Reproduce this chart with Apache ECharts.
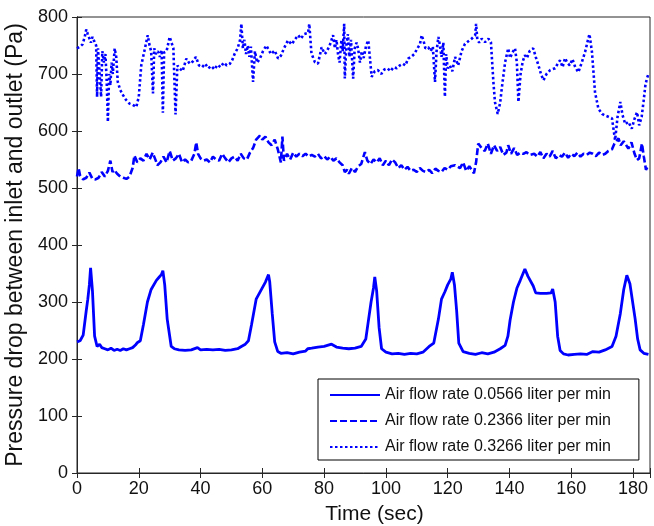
<!DOCTYPE html>
<html>
<head>
<meta charset="utf-8">
<script src="https://cdn.jsdelivr.net/npm/echarts@6/dist/echarts.min.js"></script>
<style>
html,body{margin:0;padding:0;background:#fff;}
#chart{width:654px;height:526px;}
</style>
</head>
<body>
<div id="chart"></div>
<script>
// ---- Data ----
const seriesNames = [
  'Air flow rate 0.0566 liter per min',
  'Air flow rate 0.2366 liter per min',
  'Air flow rate 0.3266 liter per min'
];
const xTicks = [0, 20, 40, 60, 80, 100, 120, 140, 160, 180];
const yTicks = [0, 100, 200, 300, 400, 500, 600, 700, 800];

// Series 1: 0.0566 liter per min (solid)
const t1 = [0,1,2,3,3.5,4,4.4,5,5.7,6.5,7.3,8,9,10,11,12,13,14,15,16,17,18,19,19.6,20.5,21.5,22.8,24,25.7,26.5,27.3,27.8,28.4,29.2,30.5,31.5,33,35,37,39,40,42,44,46,48,50,52,53.2,54.5,55.5,56.5,58,59.5,61,62,62.4,63.2,64,65,66,68,70,72,74,74.7,76,78,80,82.4,84,86,88,90,92,93.5,94.2,95.2,96,96.4,97,97.8,98.6,100,102,104,106,108,110,112,114,115.5,117,118,119.1,120,121,121.5,122.2,122.9,123.6,125,127,129,131,133,135,137,138.6,139.5,140.2,141.3,142.4,143.5,145,146,147.7,148.5,150,152,153.5,154,154.8,155.6,156.4,157.5,159,161,163,165,167,169,171,173.2,174.5,175.9,177,178,179,180.7,181.5,182.3,183.5,185];
const p1 = [230,232,242,285,305,330,360,320,240,222,226,220,218,216,219,215,217,215,218,216,218,220,225,229,232,260,300,322,338,343,348,355,330,270,222,218,216,215,216,220,216,217,216,217,215,216,218,222,226,232,260,305,320,335,348,335,280,230,213,210,211,209,212,214,218,219,221,222,226,221,219,218,219,222,235,262,300,325,344,320,255,218,212,209,210,208,210,209,212,222,228,270,305,318,330,340,352,330,285,228,213,210,208,211,209,212,218,224,240,268,300,324,338,358,345,328,316,315,315,316,323,300,240,215,209,207,208,209,208,213,212,216,222,240,280,322,347,332,270,235,216,210,208];

// Series 2: 0.2366 liter per min (dashed)
const t2 = [0,0.5,1,2,3,4,5,6,7,8,9,10,10.8,11.5,12,13,14,15,16,17,18,18.6,19.5,20.5,21.5,22.5,23.5,24.5,25.5,26,27,28,29,30,31,32,33,34,35,36,37,38,38.6,39.2,40,41,42,43,44,45,46,47,48,49,50,51,52,53,54,55,56,57,58,59.2,60,61,62,63,64,65,66,66.5,67,68,69,70,71,72,73,74,75,76,77,78,79,80,81,82,83,84,85,86,86.7,87.5,88,89,90,91,92,93.2,94,95,96,97,98,99,100,101,102,103,104,105,106,107,108,109,110,111,112,113,114,115,116,117,118,119,120,121,122.4,124,125,126,127,128.5,129.2,129.9,131,132,133,134,135,136,137,138,139,139.6,140.5,141.5,142.5,143.5,144.5,145.5,146.5,148,149,150,151,152,153,154,155,156,157,158,159,160,161,162,163,164,165,166,167,168,169,170,171,172,173.2,174,175.3,176,177,178.5,179.5,180.5,181.3,182,182.9,183.5,184.2,185];
const p2 = [520,535,522,515,518,527,516,515,518,528,520,530,548,528,532,525,520,518,516,520,535,557,545,552,548,560,550,562,548,540,545,555,545,565,548,552,560,545,550,545,548,560,580,560,552,548,550,545,555,550,548,560,552,545,552,555,548,560,552,550,562,570,585,592,585,590,580,575,585,568,545,590,548,560,550,562,555,560,556,560,555,558,555,560,552,556,550,555,548,552,545,540,528,532,525,535,528,538,542,563,548,542,550,545,552,540,548,540,550,545,535,540,532,537,530,532,528,535,530,528,532,526,534,530,528,535,532,538,540,535,545,530,538,526,545,578,570,565,578,560,575,565,572,558,562,575,560,570,558,562,560,563,558,560,555,563,552,560,555,565,552,558,555,562,553,560,556,562,555,560,558,562,560,556,562,558,560,565,568,578,587,575,582,569,580,560,549,552,578,555,532,540];

// Series 3: 0.3266 liter per min (dotted)
const t3 = [0,1,1.8,2.5,3,3.5,4,4.5,5,5.7,6.2,6.5,6.8,7.3,7.8,8.2,8.7,9.2,9.6,10,10.4,10.8,11.2,11.6,12.2,12.7,13.2,14,14.9,15.8,17,18,19.2,20,20.8,21.8,22.9,23.5,24,24.6,25,25.5,26.2,26.8,27.4,27.8,28.2,29,30,30.6,31.2,31.9,32.5,33.2,34.2,35.4,36.5,37.5,38.5,39.5,40.5,41.5,42.5,43.5,44.5,45.5,46.5,47.5,48.5,49.5,50.3,51,52,52.8,53.2,53.7,54.2,54.7,55.3,55.8,56.3,57,57.6,58.3,59.2,60.2,61.3,61.8,62.8,64,65.1,66,67,68.3,69.5,70.5,71.6,72.5,73.5,74.8,75.2,75.9,77,78,79.2,80.2,80.8,81.8,82.9,83.5,84,84.5,85,85.6,86,86.5,86.7,87.2,87.7,88.2,88.7,89.4,89.9,90.5,91,91.6,92.2,92.8,93.6,94.3,95.4,96.4,97.4,98.5,99.5,100.5,101.5,102.5,103.5,104.5,105.5,106.3,107.2,108.2,109.2,110.2,111,111.6,112.2,112.8,113.7,114.5,115.2,115.9,116.4,117,117.5,118,118.6,119.1,119.5,120,120.7,121.5,122.4,123.4,124.5,125.6,126.8,127.8,128.9,129.2,129.6,130.2,131,132.1,133.2,134,134.8,135.3,136.2,137,137.5,138.6,139.6,140.2,141,141.8,142.4,142.9,143.6,144.3,145,145.7,146.5,147.7,148.5,149.4,150.2,151,152,153.2,154.8,155.6,156.4,157.2,158,158.6,159.5,160.4,161.3,162.3,163.4,164.5,165.2,165.9,166.7,167.7,168.8,170,171,172,173.2,174.2,175,175.9,176.6,177.5,178.5,179.6,180.4,181.3,182,182.8,183.4,184,184.5,185];
const p3 = [745,748,752,765,778,770,772,755,765,756,750,660,745,748,660,740,720,735,690,616,700,680,720,700,745,730,686,672,663,655,648,646,642,660,715,740,768,750,740,666,745,735,740,730,742,632,738,740,765,755,745,629,715,710,705,727,718,722,730,715,712,718,710,714,708,716,712,720,715,718,725,735,745,760,788,745,760,735,750,730,748,686,740,720,727,740,750,747,735,741,727,732,745,759,752,760,768,762,770,772,788,736,721,718,747,735,739,750,768,745,760,735,720,760,740,788,692,750,770,730,760,692,745,755,745,720,740,728,750,759,695,705,707,700,708,710,705,712,710,715,718,715,727,730,735,745,752,768,758,745,747,740,748,686,740,765,750,730,755,660,735,710,715,705,730,715,740,753,758,762,768,788,760,755,762,756,762,756,686,651,630,650,674,721,745,728,738,745,720,651,700,722,733,728,740,745,730,715,700,689,700,707,710,718,724,712,728,721,715,726,712,703,720,739,755,770,739,668,639,630,627,625,622,584,625,651,628,612,616,604,620,633,610,625,651,680,692,700];

const zip = (t, p) => t.map((x, i) => [x, p[i]]);

const FONT = '"Liberation Sans", Arial, Helvetica, sans-serif';
const BLUE = '#0000ff';
const AX = '#262626';
const styles = [
  {color: BLUE, width: 2.8, type: 'solid'},
  {color: BLUE, width: 2.6, type: [7, 3]},
  {color: BLUE, width: 2.6, type: [2.5, 2.5]}
];

const chart = echarts.init(document.getElementById('chart'), null, {renderer: 'canvas'});
const commonHidden = {
  axisLabel: {show: false},
  splitLine: {show: false}
};
chart.setOption({
  animation: false,
  backgroundColor: '#ffffff',
  textStyle: {fontFamily: FONT},
  grid: {left: 77, right: 4, top: 17, bottom: 53, containLabel: false, outerBoundsMode: 'none',
    show: true, borderColor: AX, borderWidth: 1, backgroundColor: 'transparent'},
  legend: {
    show: true,
    orient: 'vertical',
    left: 318, top: 379,
    padding: [8, 28, 5, 11],
    itemGap: 10,
    itemWidth: 50, itemHeight: 16,
    backgroundColor: '#ffffff',
    borderColor: '#000', borderWidth: 1,
    itemStyle: {color: 'rgba(0,0,0,0)', borderWidth: 0, opacity: 0},
    textStyle: {fontFamily: FONT, fontSize: 16, lineHeight: 16, color: '#111'},
    data: seriesNames
  },
  xAxis: [{
    type: 'value', min: 0, max: 185.5, interval: 20,
    position: 'bottom',
    name: 'Time (sec)', nameLocation: 'middle', nameGap: 31,
    nameTextStyle: {fontFamily: FONT, fontSize: 21, color: '#111', padding: [0, 0, 0, 22]},
    axisLine: {show: true, lineStyle: {color: AX, width: 1}},
    axisTick: {show: true, inside: true, length: 5, lineStyle: {color: AX}},
    axisLabel: {fontFamily: FONT, fontSize: 18, color: '#111', margin: 7,
      formatter: v => (xTicks.indexOf(v) >= 0 ? String(v) : '')},
    splitLine: {show: false}
  }, {
    type: 'value', min: 0, max: 185.5, interval: 20, position: 'top',
    axisLine: {show: true, lineStyle: {color: AX, width: 1}},
    axisTick: {show: true, inside: true, length: 5, lineStyle: {color: AX}},
    ...commonHidden
  }],
  yAxis: [{
    type: 'value', min: 0, max: 800, interval: 100,
    position: 'left',
    name: 'Pressure drop between inlet and outlet (Pa)', nameLocation: 'middle', nameGap: 48,
    nameTextStyle: {fontFamily: FONT, fontSize: 23, color: '#111'},
    axisLine: {show: true, lineStyle: {color: AX, width: 1}},
    axisTick: {show: true, inside: true, length: 5, lineStyle: {color: AX}},
    axisLabel: {fontFamily: FONT, fontSize: 18, color: '#111', margin: 9,
      formatter: v => (yTicks.indexOf(v) >= 0 ? String(v) : '')},
    splitLine: {show: false}
  }, {
    type: 'value', min: 0, max: 800, interval: 100, position: 'right',
    axisLine: {show: true, lineStyle: {color: AX, width: 1}},
    axisTick: {show: true, inside: true, length: 5, lineStyle: {color: AX}},
    ...commonHidden
  }],
  series: [
    {name: seriesNames[0], type: 'line', data: zip(t1, p1)},
    {name: seriesNames[1], type: 'line', data: zip(t2, p2)},
    {name: seriesNames[2], type: 'line', data: zip(t3, p3)}
  ].map((s, i) => Object.assign(s, {
    showSymbol: false, symbol: 'none',
    lineStyle: styles[i], itemStyle: {color: BLUE}, color: BLUE
  }))
});
</script>
</body>
</html>
